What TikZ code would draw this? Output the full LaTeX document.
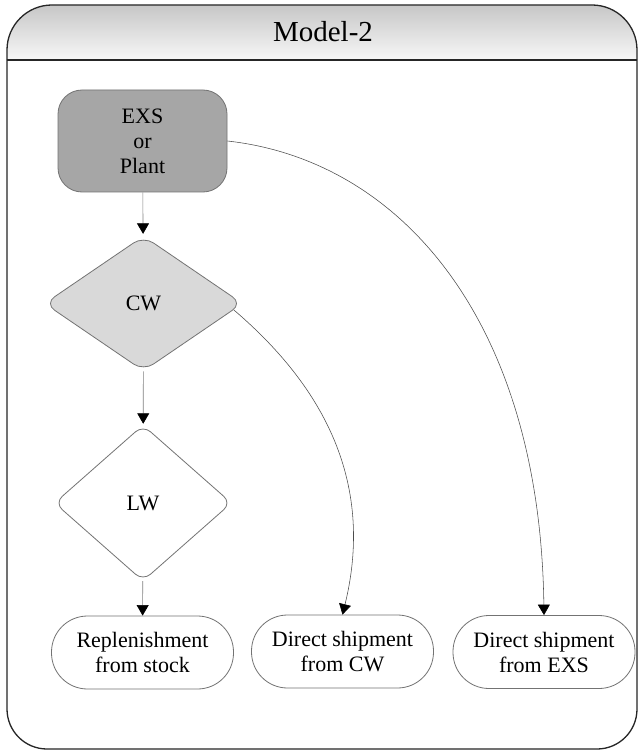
\documentclass[tikz,border=0pt]{standalone}
\usepackage{fontspec}
\setmainfont{Liberation Serif}
\usetikzlibrary{shapes.geometric,arrows.meta}
\begin{document}
\begin{tikzpicture}[x=1pt,y=1pt,
  nodefont/.style={font=\fontsize{22}{25}\selectfont},
  basebox/.style={draw=black!55, line width=0.8pt, align=center, inner sep=0pt, nodefont},
  srcbox/.style={basebox, rectangle, rounded corners=24pt, fill=black!35,
     minimum width=169pt, minimum height=102pt},
  cwshape/.style={basebox, diamond, rounded corners=12pt, fill=black!15,
     minimum width=198pt, minimum height=135pt},
  lwshape/.style={basebox, diamond, rounded corners=10pt, fill=white,
     minimum width=177pt, minimum height=156pt},
  endbox/.style={basebox, rectangle, rounded corners=36pt, fill=white,
     minimum width=182pt, minimum height=73pt},
  conn/.style={draw=black!50, line width=0.6pt,
     -{Triangle[length=10.5pt,width=12pt,color=black]}},
  curveconn/.style={conn, draw=black!70, line width=0.55pt},
]
\useasboundingbox (0,0) rectangle (638,-751);
\fill[white] (0,0) rectangle (638,-751);

% header band
\shade[top color=black!22, bottom color=black!3]
  (7,-60) [rounded corners=45pt] -- (7,-5) -- (637,-5) [sharp corners] -- (637,-60) -- cycle;
% frame
\draw[black!85, line width=1.3pt]
  (7,-60) [rounded corners=45pt] -- (7,-5) -- (637,-5) [sharp corners] -- (637,-60);
\draw[black!85, line width=1.3pt]
  (7,-60) [rounded corners=40pt] -- (7,-749) -- (637,-749) [sharp corners] -- (637,-60);
\draw[black!85, line width=1.1pt] (7,-60) -- (637,-60);
\node[font=\fontsize{29}{32}\selectfont] (title) at (323,-32) {Model-2};

% nodes
\node[srcbox] (exs) at (142.5,-141) {EXS\\or\\Plant};
\node[cwshape] (cw) at (143.5,-303.5) {CW};
\node[lwshape] (lw) at (143,-503) {LW};
\node[endbox] (repl) at (142.5,-652.5) {Replenishment\\from stock};
\node[endbox] (dcw) at (342.5,-651.5) {Direct shipment\\from CW};
\node[endbox] (dexs) at (544,-652) {Direct shipment\\from EXS};

% connectors
\draw[conn, shorten >=2pt] (exs) -- (cw);
\draw[conn, shorten >=1pt] (cw) -- (lw);
\draw[conn] (lw) -- (repl);
\draw[curveconn] (exs.east) .. controls (400,-160) and (540,-320) .. (dexs.north);
\draw[curveconn] (cw.-4) .. controls (310,-375) and (378,-470) .. (dcw.north);
\end{tikzpicture}
\end{document}
